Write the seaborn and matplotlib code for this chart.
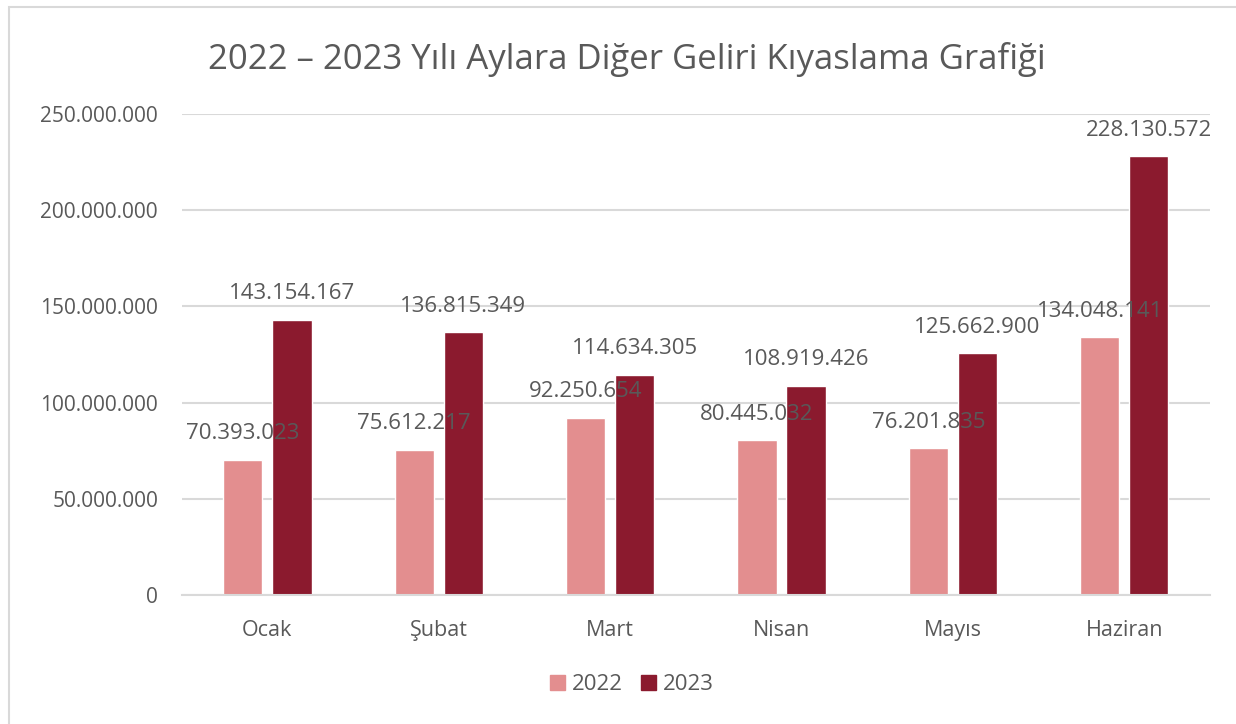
import matplotlib
matplotlib.use("Agg")
import matplotlib.pyplot as plt
import matplotlib.patches as mpatches
from matplotlib.ticker import FuncFormatter
import pandas as pd
import seaborn as sns

months = ["Ocak", "Şubat", "Mart", "Nisan", "Mayıs", "Haziran"]
years = ["2022", "2023"]
values_2022 = [70393023, 75612217, 92250654, 80445032, 76201835, 134048141]
values_2023 = [143154167, 136815349, 114634305, 108919426, 125662900, 228130572]
y_ticks = [0, 50000000, 100000000, 150000000, 200000000, 250000000]

colors = {"2022": "#E38E8F", "2023": "#8B1A2E"}
text_color = "#595959"
grid_color = "#D9D9D9"


def tr_number(v):
    return f"{int(round(v)):,}".replace(",", ".")


df = pd.DataFrame({
    "Ay": months * 2,
    "Yıl": ["2022"] * len(months) + ["2023"] * len(months),
    "Değer": values_2022 + values_2023,
})

sns.set_theme(style="white")
plt.rcParams["font.family"] = ["Open Sans", "DejaVu Sans"]

fig = plt.figure(figsize=(12.36, 7.24), dpi=100)
ax = fig.add_axes([0.147, 0.178, 0.832, 0.6645])

sns.barplot(data=df, x="Ay", y="Değer", hue="Yıl", order=months,
            hue_order=years, palette=colors, width=0.572, gap=0.2,
            saturation=1, ax=ax, legend=False)

ax.set_ylim(0, 250000000)
ax.set_xlim(-0.5, len(months) - 0.5)
ax.set_yticks(y_ticks)
ax.yaxis.set_major_formatter(FuncFormatter(lambda v, _: tr_number(v)))
ax.grid(axis="y", color=grid_color, linewidth=1.5)
ax.set_axisbelow(True)
for side in ["top", "right", "left"]:
    ax.spines[side].set_visible(False)
ax.spines["bottom"].set_color(grid_color)
ax.spines["bottom"].set_linewidth(1.5)
ax.tick_params(axis="y", length=0, pad=17, labelsize=15, labelcolor=text_color)
ax.tick_params(axis="x", length=0, pad=18, labelsize=15.5, labelcolor=text_color)
ax.set_xlabel("")
ax.set_ylabel("")

for container in ax.containers:
    ax.bar_label(container, labels=[tr_number(b.get_height()) for b in container],
                 padding=11, fontsize=16, color=text_color)

handles = [mpatches.Patch(color=colors[y], label=y) for y in years]
fig.legend(handles=handles, loc="center", bbox_to_anchor=(0.511, 0.054), ncol=2,
           frameon=False, fontsize=16, labelcolor=text_color, handlelength=0.7,
           handleheight=0.7, handletextpad=0.3, columnspacing=0.8)

fig.suptitle("2022 – 2023 Yılı Aylara Diğer Geliri Kıyaslama Grafiği",
             x=0.507, y=0.942, fontsize=25, color=text_color)

frame = mpatches.Rectangle((0.007, -0.01), 1.2, 1.0, transform=fig.transFigure,
                           fill=False, edgecolor="#D9D9D9", linewidth=1.5)
fig.patches.append(frame)

fig.savefig("out.png", dpi=100)
